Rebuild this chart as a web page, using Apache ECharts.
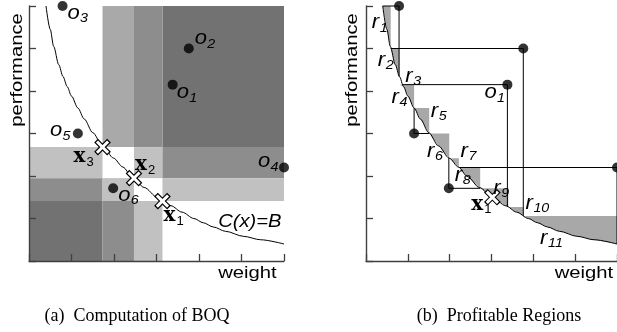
<!DOCTYPE html>
<html><head><meta charset="utf-8">
<script src="https://cdn.jsdelivr.net/npm/echarts@6/dist/echarts.min.js"></script>
<style>html,body{margin:0;padding:0;background:#fff}#c{width:617px;height:332px}</style>
</head><body><div id="c"></div>
<script>
// ---------- data (axis units 0..6) ----------
// budget curve C(x)=B
const curveWeight = [0.40,0.50,0.58,0.70,0.80,0.90,1.00,1.15,1.30,1.50,1.73,1.99,2.21,2.42,2.71,3.02,3.34,3.60,3.88,4.10,4.34,4.62,5.05,5.45,6.00];
const curvePerf   = [6.00,5.45,5.05,4.62,4.34,4.10,3.88,3.60,3.34,3.02,2.71,2.42,2.21,1.99,1.73,1.50,1.30,1.15,1.00,0.90,0.80,0.70,0.58,0.50,0.40];

// objects o1..o6
const objIds    = ['1','2','3','4','5','6'];
const objWeight = [3.38,3.76,0.79,6.00,1.15,1.98];
const objPerf   = [4.15,5.00,6.00,2.20,3.00,1.71];
// right panel: where each object's horizontal / vertical guide meets the curve
const objHorizEndWeight = [0.88,0.59,0.40,2.22,1.51,2.73];
const objVertEndPerf    = [1.27,1.06,4.34,0.40,3.60,2.42];

// BOQ points x1..x3 (left panel)
const boqIds    = ['1','2','3'];
const boqWeight = [3.14,2.47,1.73];
const boqPerf   = [1.41,1.95,2.68];
// x1 in right panel
const boqRightWeight = [3.02];
const boqRightPerf   = [1.50];

// left panel shaded cells
const cellWeightFrom = [3.14,2.47,1.73, 0.00,2.47,3.14, 0.00,1.73,3.14, 0.00,1.73,2.47];
const cellWeightTo   = [6.00,3.14,2.47, 1.73,3.14,6.00, 1.73,2.47,6.00, 1.73,2.47,3.14];
const cellPerfFrom   = [2.68,2.68,2.68, 1.95,1.95,1.95, 1.41,1.41,1.41, 0.00,0.00,0.00];
const cellPerfTo     = [6.00,6.00,6.00, 2.68,2.68,2.68, 1.95,1.95,1.95, 1.41,1.41,1.41];
const cellShade      = ['dark','mid','midlight', 'light','light','mid', 'mid','light','light', 'dark','mid','light'];

// right panel profitable regions (boxes, kept only above the curve)
const regionWeightFrom = [0.40,0.59,0.80,1.15,1.51,1.99,2.22,2.73,3.40,3.76];
const regionWeightTo   = [0.59,0.80,1.15,1.51,1.99,2.22,2.73,3.40,3.76,6.00];
const regionPerfFrom   = [5.00,0.00,0.00,3.00,2.42,2.20,1.71,0.00,0.00,0.00];
const regionPerfTo     = [6.00,5.00,4.15,3.60,3.00,2.42,2.20,1.71,1.27,1.06];

// region labels r1..r11 (anchor in axis units)
const regionLabelIds    = ['1','2','3','4','5','6','7','8','9','10','11'];
const regionLabelWeight = [0.14,0.28,0.94,0.61,1.55,1.46,2.26,2.12,3.04,3.81,4.16];
const regionLabelPerf   = [5.44,4.56,4.19,3.69,3.36,2.42,2.42,1.86,1.55,1.20,0.38];

// ---------- styles ----------
const shadeColor = {dark:'#727272', mid:'#8d8d8d', midlight:'#a9a9a9', light:'#c1c1c1'};
const regionColor = '#a8a8a8';
const objLabelOffset = [[4,15],[6,-3],[5,14],[-26,1],[-28,4],[5,14]];  // px, baseline-left of label
const boqLabelOffset = [[1,22],[1,-6],[-29,17]];
const kinds = {
  obj: {font:'italic 20px "Liberation Sans"', fs:20, sfont:'italic 13px "Liberation Sans"', sfs:13, sdx:12.5, sdy:3, sx:1.1},
  reg: {font:'italic 20px "Liberation Sans"', fs:20, sfont:'italic 13px "Liberation Sans"', sfs:13, sdx:8, sdy:3, sx:1.1},
  boq: {font:'bold 20px "DejaVu Serif"', fs:20, sfont:'13px "Liberation Sans"', sfs:13, sdx:13, sdy:3, sx:1.0}
};

function glyph(x, base, main, sub, kind) {
  const k = kinds[kind];
  return [
    {type:'text', x:x, y:base - 0.345*k.fs, scaleX:k.sx,
     style:{text:main, font:k.font, fill:'#000', align:'left', verticalAlign:'middle'}},
    {type:'text', x:x + k.sdx, y:base + k.sdy - 0.345*k.sfs, scaleX:k.sx,
     style:{text:sub, font:k.sfont, fill:'#000', align:'left', verticalAlign:'middle'}}
  ];
}

function curveAt(u) {
  if (u <= curveWeight[0]) return curvePerf[0];
  for (let i = 1; i < curveWeight.length; i++) {
    if (u <= curveWeight[i]) {
      const t = (u - curveWeight[i-1]) / (curveWeight[i] - curveWeight[i-1]);
      return curvePerf[i-1] + t * (curvePerf[i] - curvePerf[i-1]);
    }
  }
  return curvePerf[curvePerf.length-1];
}

function crossEls(c) {
  const h = 6.5, hi = 5.6;
  const ln = (a, w, col) => [
    {type:'line', shape:{x1:c[0]-a, y1:c[1]-a, x2:c[0]+a, y2:c[1]+a}, style:{stroke:col, lineWidth:w, lineCap:'butt'}},
    {type:'line', shape:{x1:c[0]-a, y1:c[1]+a, x2:c[0]+a, y2:c[1]-a}, style:{stroke:col, lineWidth:w, lineCap:'butt'}}
  ];
  return ln(h, 5.2, '#000').concat(ln(hi, 3, '#fff'));
}

const axisStyle = {color:'#404040', width:1.4};
function mkAxis(gi) {
  return {type:'value', gridIndex:gi, min:0, max:6, interval:1, z:10,
    axisLine:{show:true, onZero:false, lineStyle:axisStyle},
    axisTick:{show:true, inside:true, length:7, lineStyle:{color:'#404040', width:1.3}},
    axisLabel:{show:false}, splitLine:{show:false}};
}

const curveData = curveWeight.map((w,i)=>[w, curvePerf[i]]);
const objData = objWeight.map((w,i)=>[w, objPerf[i]]);

const chart = echarts.init(document.getElementById('c'), null, {renderer:'canvas'});
chart.setOption({
  animation:false,
  backgroundColor:'#fff',
  grid:[{left:29, top:6, width:255, height:255}, {left:366, top:6, width:255, height:255}],
  xAxis:[mkAxis(0), mkAxis(1)],
  yAxis:[mkAxis(0), mkAxis(1)],
  graphic:[
    {type:'text', x:17.5, y:70, rotation:Math.PI/2, scaleX:1.19, style:{text:'performance', font:'17px "Liberation Sans"', fill:'#000', align:'center', verticalAlign:'middle'}},
    {type:'text', x:352.5, y:70, rotation:Math.PI/2, scaleX:1.19, style:{text:'performance', font:'17px "Liberation Sans"', fill:'#000', align:'center', verticalAlign:'middle'}},
    {type:'text', x:247.5, y:273.5, scaleX:1.19, style:{text:'weight', font:'17px "Liberation Sans"', fill:'#000', align:'center', verticalAlign:'middle'}},
    {type:'text', x:584, y:273.5, scaleX:1.19, style:{text:'weight', font:'17px "Liberation Sans"', fill:'#000', align:'center', verticalAlign:'middle'}},
    {type:'text', x:137, y:316, style:{text:'(a)  Computation of BOQ', font:'18px "Liberation Serif"', fill:'#000', align:'center', verticalAlign:'middle'}},
    {type:'text', x:499, y:316, style:{text:'(b)  Profitable Regions', font:'18px "Liberation Serif"', fill:'#000', align:'center', verticalAlign:'middle'}}
  ],
  series:[
    // ----- left panel -----
    {type:'custom', xAxisIndex:0, yAxisIndex:0, z:1, silent:true,
     data: cellWeightFrom.map((w,i)=>[cellWeightFrom[i], cellPerfFrom[i], cellWeightTo[i], cellPerfTo[i]]),
     renderItem:(params, api)=>{
       const a = api.coord([api.value(0), api.value(3)]);
       const b = api.coord([api.value(2), api.value(1)]);
       return {type:'rect', shape:{x:a[0], y:a[1], width:b[0]-a[0], height:b[1]-a[1]},
               style:{fill:shadeColor[cellShade[params.dataIndex]]}};
     }},
    {type:'line', xAxisIndex:0, yAxisIndex:0, z:3, data:curveData, showSymbol:false, smooth:0.3, smoothMonotone:'x',
     lineStyle:{color:'#000', width:1}, silent:true},
    {type:'scatter', xAxisIndex:0, yAxisIndex:0, z:4, data:objData, symbolSize:10, clip:false,
     itemStyle:{color:'#000'}, silent:true},
    {type:'custom', xAxisIndex:0, yAxisIndex:0, z:5, silent:true,
     data: boqWeight.map((w,i)=>[w, boqPerf[i]]),
     renderItem:(params, api)=>({type:'group', children:crossEls(api.coord([api.value(0), api.value(1)]))})},
    {type:'custom', xAxisIndex:0, yAxisIndex:0, z:6, silent:true,
     data: objData,
     renderItem:(params, api)=>{
       const c = api.coord([api.value(0), api.value(1)]);
       const o = objLabelOffset[params.dataIndex];
       return {type:'group', children:glyph(c[0]+o[0], c[1]+o[1], 'o', objIds[params.dataIndex], 'obj')};
     }},
    {type:'custom', xAxisIndex:0, yAxisIndex:0, z:6, silent:true,
     data: boqWeight.map((w,i)=>[w, boqPerf[i]]),
     renderItem:(params, api)=>{
       const c = api.coord([api.value(0), api.value(1)]);
       const o = boqLabelOffset[params.dataIndex];
       return {type:'group', children:glyph(c[0]+o[0], c[1]+o[1], 'x', boqIds[params.dataIndex], 'boq')};
     }},
    {type:'custom', xAxisIndex:0, yAxisIndex:0, z:6, silent:true,
     data:[[4.45, 0.78]],
     renderItem:(params, api)=>{
       const c = api.coord([api.value(0), api.value(1)]);
       return {type:'text', x:c[0], y:c[1]-0.345*18, scaleX:1.12,
               style:{text:'C(x)=B', font:'italic 18px "Liberation Sans"', fill:'#000', align:'left', verticalAlign:'middle'}};
     }},
    // ----- right panel -----
    {type:'custom', xAxisIndex:1, yAxisIndex:1, z:1, silent:true,
     data: regionWeightFrom.map((w,i)=>[regionWeightFrom[i], regionPerfFrom[i], regionWeightTo[i], regionPerfTo[i]]),
     renderItem:(params, api)=>{
       const w0 = api.value(0), p0 = api.value(1), w1 = api.value(2), p1 = api.value(3);
       const us = [w0].concat(curveWeight.filter(u => u > w0 && u < w1), [w1]);
       const pts = us.map(u => api.coord([u, Math.min(p1, Math.max(p0, curveAt(u)))]));
       pts.push(api.coord([w1, p1]), api.coord([w0, p1]));
       return {type:'polygon', shape:{points:pts}, style:{fill:regionColor}};
     }},
    {type:'custom', xAxisIndex:1, yAxisIndex:1, z:2, silent:true,
     data: objData,
     renderItem:(params, api)=>{
       const i = params.dataIndex;
       const c = api.coord([api.value(0), api.value(1)]);
       const h = api.coord([objHorizEndWeight[i], api.value(1)]);
       const v = api.coord([api.value(0), objVertEndPerf[i]]);
       return {type:'group', children:[
         {type:'line', shape:{x1:c[0], y1:c[1], x2:h[0], y2:h[1]}, style:{stroke:'#000', lineWidth:1}},
         {type:'line', shape:{x1:c[0], y1:c[1], x2:v[0], y2:v[1]}, style:{stroke:'#000', lineWidth:1}}
       ]};
     }},
    {type:'line', xAxisIndex:1, yAxisIndex:1, z:3, data:curveData, showSymbol:false, smooth:0.3, smoothMonotone:'x',
     lineStyle:{color:'#000', width:1}, silent:true},
    {type:'scatter', xAxisIndex:1, yAxisIndex:1, z:4, data:objData, symbolSize:10, clip:false,
     itemStyle:{color:'#000'}, silent:true},
    {type:'custom', xAxisIndex:1, yAxisIndex:1, z:5, silent:true,
     data: boqRightWeight.map((w,i)=>[w, boqRightPerf[i]]),
     renderItem:(params, api)=>({type:'group', children:crossEls(api.coord([api.value(0), api.value(1)]))})},
    {type:'custom', xAxisIndex:1, yAxisIndex:1, z:6, silent:true,
     data: boqRightWeight.map((w,i)=>[w, boqRightPerf[i]]),
     renderItem:(params, api)=>{
       const c = api.coord([api.value(0), api.value(1)]);
       return {type:'group', children:glyph(c[0]-21, c[1]+14, 'x', boqIds[0], 'boq')};
     }},
    {type:'custom', xAxisIndex:1, yAxisIndex:1, z:6, silent:true,
     data: [objData[0]],
     renderItem:(params, api)=>{
       const c = api.coord([api.value(0), api.value(1)]);
       return {type:'group', children:glyph(c[0]-23, c[1]+15, 'o', objIds[0], 'obj')};
     }},
    {type:'custom', xAxisIndex:1, yAxisIndex:1, z:6, silent:true,
     data: regionLabelWeight.map((w,i)=>[w, regionLabelPerf[i]]),
     renderItem:(params, api)=>{
       const c = api.coord([api.value(0), api.value(1)]);
       return {type:'group', children:glyph(c[0], c[1], 'r', regionLabelIds[params.dataIndex], 'reg')};
     }}
  ]
});
</script></body></html>
